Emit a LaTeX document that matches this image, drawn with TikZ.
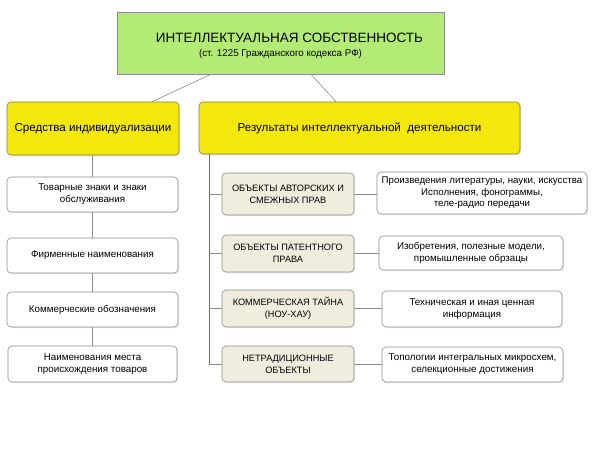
\documentclass[tikz,border=0pt]{standalone}
\usepackage{fontspec}
\setmainfont{Liberation Sans}
\usetikzlibrary{positioning,calc,shadows}

\definecolor{ipgreen}{RGB}{180,234,118}
\definecolor{ipyellow}{RGB}{243,231,12}
\definecolor{ipbeige}{RGB}{240,236,222}
\definecolor{ipedge}{RGB}{140,140,140}
\definecolor{ipolive}{RGB}{135,130,60}

\tikzset{
  mainbox/.style={draw=ipedge,fill=ipgreen,minimum width=327pt,minimum height=62pt,align=center,drop shadow={opacity=0.25,shadow xshift=1pt,shadow yshift=-1pt}},
  groupbox/.style={draw=ipolive,fill=ipyellow,rounded corners=4pt,minimum height=53pt,font=\fontsize{11.6}{14}\selectfont,drop shadow={opacity=0.25,shadow xshift=1pt,shadow yshift=-1pt}},
  itembox/.style={draw=ipedge,fill=white,rounded corners=4pt,align=center,font=\fontsize{9.8}{12}\selectfont,inner sep=0pt,drop shadow={opacity=0.2,shadow xshift=1pt,shadow yshift=-1pt}},
  objbox/.style={itembox,fill=ipbeige,font=\fontsize{9.2}{12}\selectfont}
}

\begin{document}
\begin{tikzpicture}[x=1pt,y=-1pt,line width=0.6pt]
\useasboundingbox (0,0) rectangle (600,456);

\node[mainbox] (ip) at (280.5,43) {\fontsize{13.5}{16}\selectfont\rule{0pt}{16pt}\hspace{18pt}ИНТЕЛЛЕКТУАЛЬНАЯ СОБСТВЕННОСТЬ\\[2pt]
  \fontsize{9.8}{12}\selectfont (ст. 1225 Гражданского кодекса РФ)};

\node[groupbox,minimum width=172pt] (ind) at (93,128.5) {Средства индивидуализации};
\node[groupbox,minimum width=321pt,minimum height=52pt] (res) at (359.5,128) {Результаты интеллектуальной\ \ деятельности};

\draw[ipedge] ($(ip.south)+(-69.5,0)$) -- ($(ind.north)+(59,0)$);
\draw[ipedge] ($(ip.south)+(30.5,0)$) -- ($(res.north)+(-23.5,0)$);

% left column
\node[itembox,minimum width=171pt,minimum height=35pt] (l1) at (92.5,194.5) {Товарные знаки и знаки\\обслуживания};
\node[itembox,minimum width=171pt,minimum height=35pt] (l2) at (92.5,255.5) {Фирменные наименования};
\node[itembox,minimum width=171pt,minimum height=35pt] (l3) at (92.5,309.5) {Коммерческие обозначения};
\node[itembox,minimum width=169pt,minimum height=36pt] (l4) at (92.5,364) {Наименования места\\происхождения товаров};

\draw[ipedge] (l1.north |- ind.south) -- (l1.north);
\draw[ipedge] (l1.south) -- (l2.north);
\draw[ipedge] (l2.south) -- (l3.north);
\draw[ipedge] (l3.south) -- (l4.north);

% objects
\node[objbox,minimum width=132pt,minimum height=42pt] (m1) at (288,194) {ОБЪЕКТЫ АВТОРСКИХ И\\СМЕЖНЫХ ПРАВ};
\node[objbox,minimum width=132pt,minimum height=37pt] (m2) at (288,253.5) {ОБЪЕКТЫ ПАТЕНТНОГО\\ПРАВА};
\node[objbox,minimum width=132pt,minimum height=37pt] (m3) at (288,308.5) {КОММЕРЧЕСКАЯ ТАЙНА\\(НОУ-ХАУ)};
\node[objbox,minimum width=132pt,minimum height=36pt] (m4) at (288,364) {НЕТРАДИЦИОННЫЕ\\ОБЪЕКТЫ};

\node[itembox,minimum width=210pt,minimum height=42pt,font=\fontsize{9.7}{11.5}\selectfont] (r1) at (482,193) {Произведения литературы, науки, искусства\\Исполнения, фонограммы,\\теле-радио передачи};
\node[itembox,minimum width=184pt,minimum height=34pt] (r2) at (471,253) {Изобретения, полезные модели,\\промышленные обрзацы};
\node[itembox,minimum width=180pt,minimum height=36pt] (r3) at (472,309) {Техническая и иная ценная\\информация};
\node[itembox,minimum width=181pt,minimum height=35pt] (r4) at (472.5,364.5) {Топологии интегральных микросхем,\\селекционные достижения};

\coordinate (tr) at (209,0);
\draw[ipedge!80!black] (res.south -| tr) -- (tr |- m4.west);
\foreach \i in {1,...,4} {
  \draw[ipedge] (tr |- m\i.west) -- (m\i.west);
  \draw[ipedge] (m\i.east) -- (m\i.east -| r\i.west);
}

\end{tikzpicture}
\end{document}
